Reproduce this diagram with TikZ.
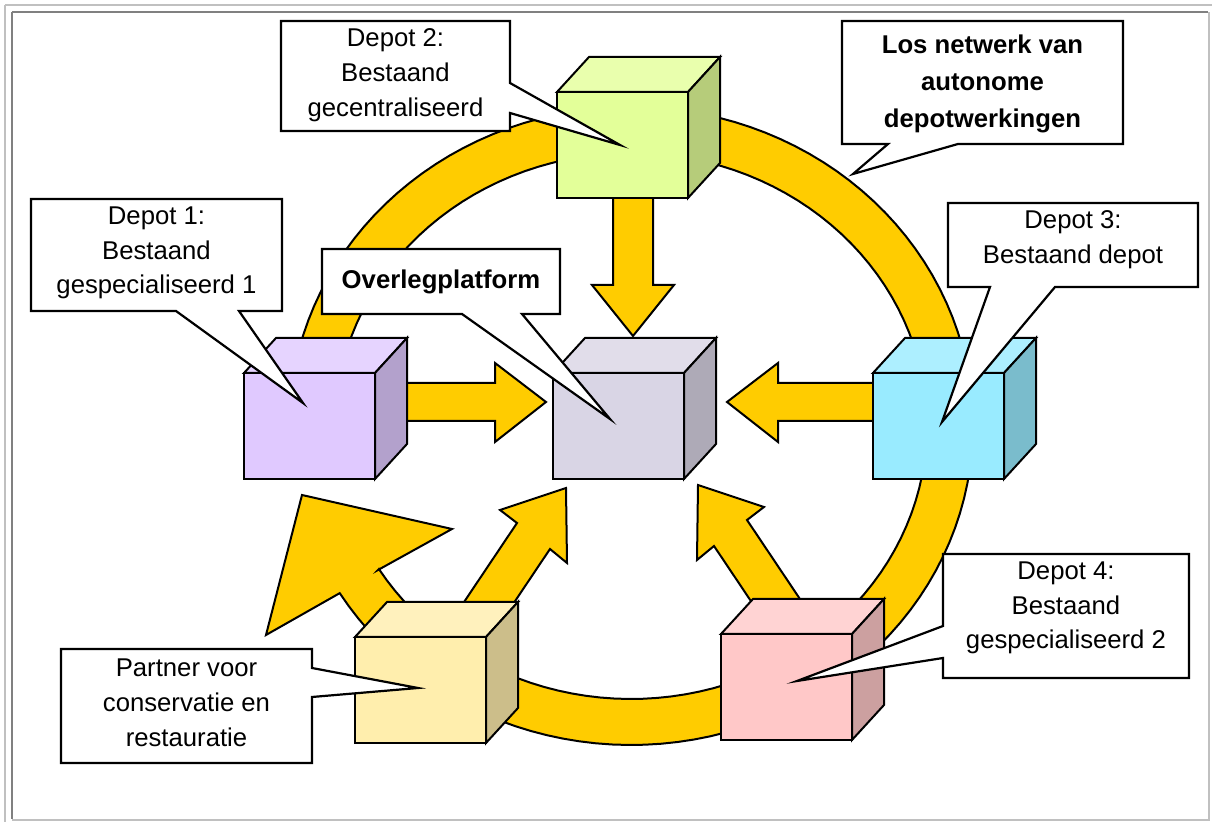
\documentclass[tikz,border=0pt]{standalone}
\usepackage{fontspec}
\setmainfont{Liberation Sans}
\definecolor{ringyel}{HTML}{FFCC00}
\definecolor{cgreen}{HTML}{E3FF99}
\definecolor{cpurple}{HTML}{E0C9FF}
\definecolor{cgray}{HTML}{D9D5E5}
\definecolor{ccyan}{HTML}{99EBFF}
\definecolor{cyel}{HTML}{FFEEAD}
\definecolor{cpink}{HTML}{FFC8C8}
\definecolor{framelight}{HTML}{C0C0C0}
\definecolor{framedark}{HTML}{808080}
\newcommand{\cubebox}[4]{%
  \coordinate (#1) at (#2+65.5,#3+53);
  \filldraw[cubeline, fill=#4!80!white] (#2,#3) -- ++(32,-35) -- ++(131,0) -- ++(-32,35) -- cycle;
  \filldraw[cubeline, fill=#4!80!black] (#2+131,#3) -- ++(32,-35) -- ++(0,106) -- ++(-32,35) -- cycle;
  \filldraw[cubeline, fill=#4] (#2,#3) rectangle ++(131,106);
}
\begin{document}
\begin{tikzpicture}[x=0.5pt,y=-0.5pt,
  cubeline/.style={draw=black, line width=1pt, line join=miter},
  yelshape/.style={fill=ringyel, draw=black, line width=1pt},
  callout/.style={fill=white, draw=black, line width=1.1pt},
  ctext/.style={align=center, inner sep=0pt, font=\fontsize{12.85}{17.4}\selectfont},
  btext/.style={align=center, inner sep=0pt, font=\bfseries\fontsize{12.85}{18.6}\selectfont}]
\useasboundingbox (0,0) rectangle (1212,822);
% frame
\draw[framelight, line width=1pt] (5,5) -- (1212,5);
\draw[framelight, line width=1pt] (5,5) -- (5,822);
\draw[framedark, line width=1pt] (12,12) -- (1208,12);
\draw[framedark, line width=1pt] (12,12) -- (12,819);
\draw[framelight, line width=1pt] (1209,12) -- (1209,820) -- (12,820);
% ring (circular arrow)
\filldraw[yelshape] plot[domain=180:508.4, samples=120] ({631+342*cos(\x)},{426+319*sin(\x)})
  -- (266,635) -- (302,495) -- (452,529) -- (378,570)
  -- plot[domain=508.4:180, samples=120] ({631+296*cos(\x)},{426+273*sin(\x)}) -- cycle;
% straight arrows
\filldraw[yelshape] (613,180) -- (653,180) -- (653,285) -- (674,285) -- (633,336) -- (592,285) -- (613,285) -- cycle;
\filldraw[yelshape] (390,383) -- (495,383) -- (495,363) -- (546,402) -- (495,442) -- (495,421) -- (390,421) -- cycle;
\filldraw[yelshape] (890,383) -- (778,383) -- (778,363) -- (727,402) -- (778,442) -- (778,421) -- (890,421) -- cycle;
\filldraw[yelshape] (456,614) -- (517,523) -- (500,510) -- (566,488) -- (567,563) -- (550,549) -- (489,640) -- cycle;
\filldraw[yelshape] (808,611) -- (747,520) -- (764,507) -- (698,485) -- (697,560) -- (714,546) -- (775,637) -- cycle;
% cubes
\cubebox{green}{557}{92}{cgreen}
\cubebox{purple}{244}{373}{cpurple}
\cubebox{center}{553}{373}{cgray}
\cubebox{cyan}{873}{373}{ccyan}
\cubebox{yellow}{355}{637}{cyel}
\cubebox{pink}{721}{634}{cpink}
% callouts
\filldraw[callout] (281,21) -- (510,21) -- (510,83) -- (620,145) -- (510,113) -- (510,131) -- (281,131) -- cycle;
\node[ctext] (t2) at (395.5,75) {Depot 2:\\Bestaand\\gecentraliseerd};
\filldraw[callout] (842,21) -- (1123,21) -- (1123,144) -- (958,144) -- (853,174) -- (888,144) -- (842,144) -- cycle;
\node[btext] (tlos) at (982.5,84) {Los netwerk van\\autonome\\depotwerkingen};
\filldraw[callout] (31,199) -- (282,199) -- (282,311) -- (239,311) -- (303,403) -- (176,311) -- (31,311) -- cycle;
\node[ctext] (t1) at (156.5,253) {Depot 1:\\Bestaand\\gespecialiseerd 1};
\filldraw[callout] (322,249) -- (560,249) -- (560,314) -- (522,314) -- (610,419) -- (462,314) -- (322,314) -- cycle;
\node[btext] (tover) at (441,282) {Overlegplatform};
\filldraw[callout] (948,203) -- (1198,203) -- (1198,287) -- (1055,287) -- (942,422) -- (990,287) -- (948,287) -- cycle;
\node[ctext] (t3) at (1073,240) {Depot 3:\\Bestaand depot};
\filldraw[callout] (943,554) -- (1189,554) -- (1189,678) -- (943,678) -- (943,658) -- (797,681) -- (943,626) -- cycle;
\node[ctext] (t4) at (1066,608) {Depot 4:\\Bestaand\\gespecialiseerd 2};
\filldraw[callout] (61,649) -- (312,649) -- (312,668) -- (418,688) -- (312,697) -- (312,763) -- (61,763) -- cycle;
\node[ctext] (tp) at (186.5,703) {Partner voor\\conservatie en\\restauratie};
\end{tikzpicture}
\end{document}
